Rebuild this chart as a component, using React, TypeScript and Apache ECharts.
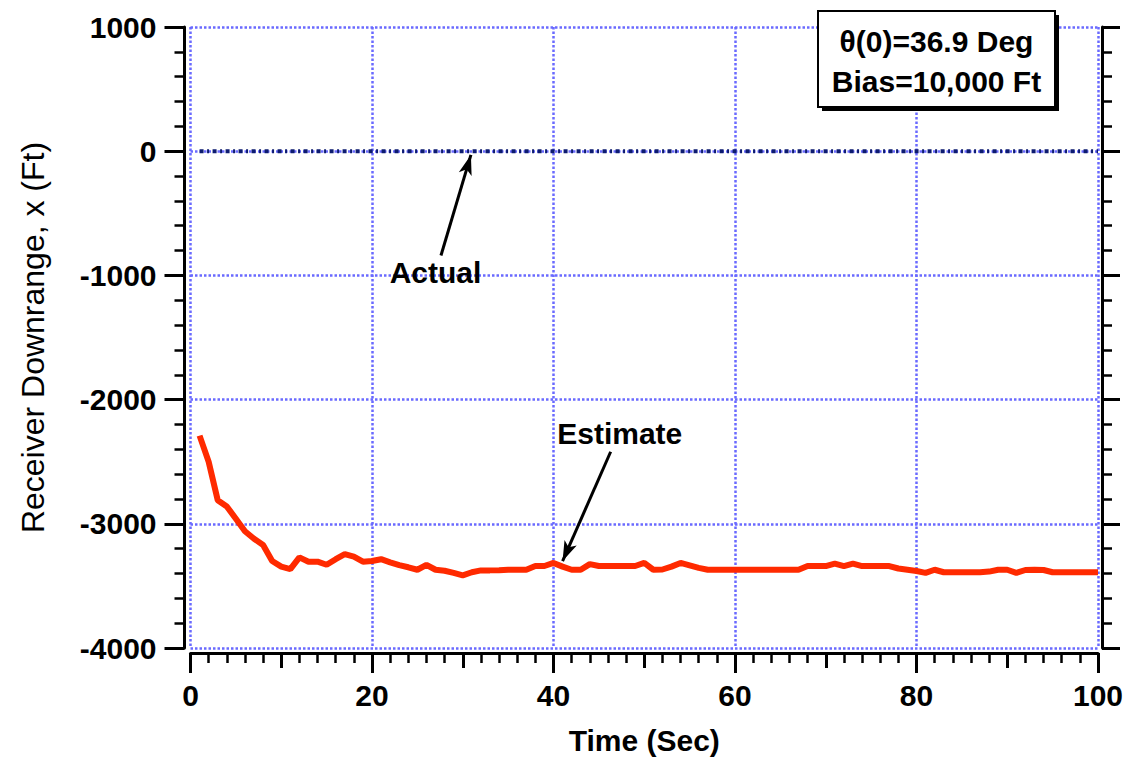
import React, { useEffect, useRef } from "react";
import * as echarts from "echarts";

// ---- data ----
const estimateTime = [
  1, 2, 3, 4, 5, 6, 7, 8, 9, 10, 11, 12, 13, 14, 15, 16, 17, 18, 19, 20,
  21, 22, 23, 24, 25, 26, 27, 28, 29, 30, 31, 32, 33, 34, 35, 36, 37, 38, 39, 40,
  41, 42, 43, 44, 45, 46, 47, 48, 49, 50, 51, 52, 53, 54, 55, 56, 57, 58, 59, 60,
  61, 62, 63, 64, 65, 66, 67, 68, 69, 70, 71, 72, 73, 74, 75, 76, 77, 78, 79, 80,
  81, 82, 83, 84, 85, 86, 87, 88, 89, 90, 91, 92, 93, 94, 95, 96, 97, 98, 99, 100,
];
const estimateValues = [
  -2290, -2500, -2810, -2860, -2960, -3060, -3120, -3170, -3300, -3345,
  -3365, -3270, -3305, -3305, -3330, -3285, -3245, -3265, -3305, -3300,
  -3285, -3310, -3333, -3350, -3370, -3330, -3370, -3378, -3395, -3415,
  -3390, -3375, -3375, -3374, -3370, -3370, -3370, -3340, -3340, -3315,
  -3345, -3370, -3370, -3325, -3340, -3340, -3340, -3340, -3340, -3315,
  -3370, -3368, -3345, -3315, -3335, -3355, -3370, -3370, -3370, -3370,
  -3370, -3370, -3370, -3370, -3370, -3370, -3370, -3340, -3340, -3340,
  -3320, -3340, -3320, -3340, -3340, -3340, -3340, -3360, -3370, -3380,
  -3395, -3370, -3390, -3390, -3390, -3390, -3390, -3385, -3370, -3370,
  -3395, -3372, -3370, -3372, -3390, -3390, -3390, -3390, -3390, -3390,
];
const actualTime = [1, 100];
const actualValues = [0, 0];

const xTicks = { min: 0, max: 100, interval: 20 };
const yTicks = { min: -4000, max: 1000, interval: 1000 };

const infoLines = ["θ(0)=36.9 Deg", "Bias=10,000 Ft"];
const actualLabel = { text: "Actual", at: [27.0, -975], from: [27.6, -840], to: [30.9, -30] };
const estimateLabel = { text: "Estimate", at: [47.3, -2270], from: [46.3, -2420], to: [41.0, -3300] };

const FONT = "'Liberation Sans', Arial, Helvetica, sans-serif";
const GRID_COLOR = "#6a6aff";

export default function App() {
  const ref = useRef<HTMLDivElement>(null);

  useEffect(() => {
    if (!ref.current) return;
    const chart = echarts.init(ref.current, undefined, { renderer: "svg" });

    const splitLine = {
      show: true,
      lineStyle: { color: GRID_COLOR, width: 2.5, type: [2.5, 2] as any },
    };
    const labelStyle = { fontSize: 30, fontWeight: "bold" as const, color: "#000", fontFamily: FONT };
    const plain = (v: number) => String(v);

    const arrowLine = (a: any) => ({
      symbol: ["none", "arrow"],
      symbolSize: [10, 20],
      silent: true,
      lineStyle: { color: "#000", width: 3, type: "solid" as const },
      label: { show: false },
      data: [[{ coord: a.from }, { coord: a.to }]],
    });

    chart.setOption({
      animation: false,
      backgroundColor: "#fff",
      grid: { left: 190.5, right: 29, top: 27, bottom: 111.5, containLabel: false },
      xAxis: [
        {
          type: "value",
          ...xTicks,
          position: "bottom",
          offset: 5,
          axisLine: { show: true, onZero: false, lineStyle: { color: "#000", width: 3 } },
          axisTick: { show: true, length: 20, lineStyle: { color: "#000", width: 3 } },
          minorTick: { show: true, splitNumber: 10, length: 10, lineStyle: { color: "#000", width: 2.5 } },
          axisLabel: { ...labelStyle, margin: 27, formatter: plain },
          splitLine,
          name: "Time (Sec)",
          nameLocation: "middle",
          nameGap: 72,
          nameTextStyle: { ...labelStyle },
        },
        {
          type: "value",
          min: 0,
          max: 100,
          interval: 10,
          position: "bottom",
          offset: 5,
          axisLine: { show: false, onZero: false },
          axisTick: { show: true, length: 15, lineStyle: { color: "#000", width: 3 } },
          axisLabel: { show: false },
          splitLine: { show: false },
        },
      ],
      yAxis: [
        {
          type: "value",
          ...yTicks,
          position: "left",
          offset: 6,
          axisLine: { show: true, onZero: false, lineStyle: { color: "#000", width: 3 } },
          axisTick: { show: true, length: 20, lineStyle: { color: "#000", width: 3 } },
          minorTick: { show: true, splitNumber: 5, length: 10, lineStyle: { color: "#000", width: 2.5 } },
          axisLabel: { ...labelStyle, margin: 28, formatter: plain },
          splitLine,
          name: "Receiver Downrange, x (Ft)",
          nameLocation: "middle",
          nameGap: 136,
          nameTextStyle: { fontSize: 32, fontWeight: "normal", color: "#000", fontFamily: FONT },
        },
        {
          type: "value",
          ...yTicks,
          position: "right",
          offset: 4,
          axisLine: { show: true, onZero: false, lineStyle: { color: "#000", width: 3 } },
          axisTick: { show: true, length: 18, lineStyle: { color: "#000", width: 3 } },
          minorTick: { show: true, splitNumber: 5, length: 10, lineStyle: { color: "#000", width: 2.5 } },
          axisLabel: { show: false },
          splitLine: { show: false },
        },
      ],
      series: [
        {
          name: "Actual",
          type: "line",
          xAxisIndex: 0,
          yAxisIndex: 0,
          data: actualTime.map((t, i) => [t, actualValues[i]]),
          showSymbol: false,
          symbol: "none",
          lineStyle: { color: "#0d1b70", width: 4, type: [4, 3.5, 2, 3.5] as any },
          z: 3,
          markLine: arrowLine(actualLabel),
        },
        {
          name: "Estimate",
          type: "line",
          xAxisIndex: 0,
          yAxisIndex: 0,
          data: estimateTime.map((t, i) => [t, estimateValues[i]]),
          showSymbol: false,
          symbol: "none",
          lineStyle: { color: "#ff2a00", width: 6 },
          z: 4,
          markLine: arrowLine(estimateLabel),
        },
      ],
    });

    const p1 = chart.convertToPixel({ gridIndex: 0 }, actualLabel.at) as number[];
    const p2 = chart.convertToPixel({ gridIndex: 0 }, estimateLabel.at) as number[];

    chart.setOption({
      graphic: [
        {
          type: "text",
          x: p1[0],
          y: p1[1],
          z: 10,
          style: { text: actualLabel.text, font: `bold 30px ${FONT}`, align: "center", verticalAlign: "middle", fill: "#000" },
        },
        {
          type: "text",
          x: p2[0],
          y: p2[1],
          z: 10,
          style: { text: estimateLabel.text, font: `bold 30px ${FONT}`, align: "center", verticalAlign: "middle", fill: "#000" },
        },
        {
          type: "group",
          x: 818,
          y: 11,
          z: 20,
          children: [
            { type: "rect", shape: { x: 4, y: 4, width: 237, height: 96 }, style: { fill: "#000" } },
            { type: "rect", shape: { x: 0, y: 0, width: 237, height: 96 }, style: { fill: "#fff", stroke: "#000", lineWidth: 2 } },
            {
              type: "text",
              x: 118.5,
              y: 30,
              style: { text: infoLines[0], font: `bold 30px ${FONT}`, align: "center", verticalAlign: "middle", fill: "#000" },
            },
            {
              type: "text",
              x: 118.5,
              y: 70,
              style: { text: infoLines[1], font: `bold 30px ${FONT}`, align: "center", verticalAlign: "middle", fill: "#000" },
            },
          ],
        },
      ],
    });

    return () => chart.dispose();
  }, []);

  return (
    <div
      ref={ref}
      style={{ position: "fixed", left: 0, top: 0, width: 1127, height: 760, background: "#fff" }}
    />
  );
}
